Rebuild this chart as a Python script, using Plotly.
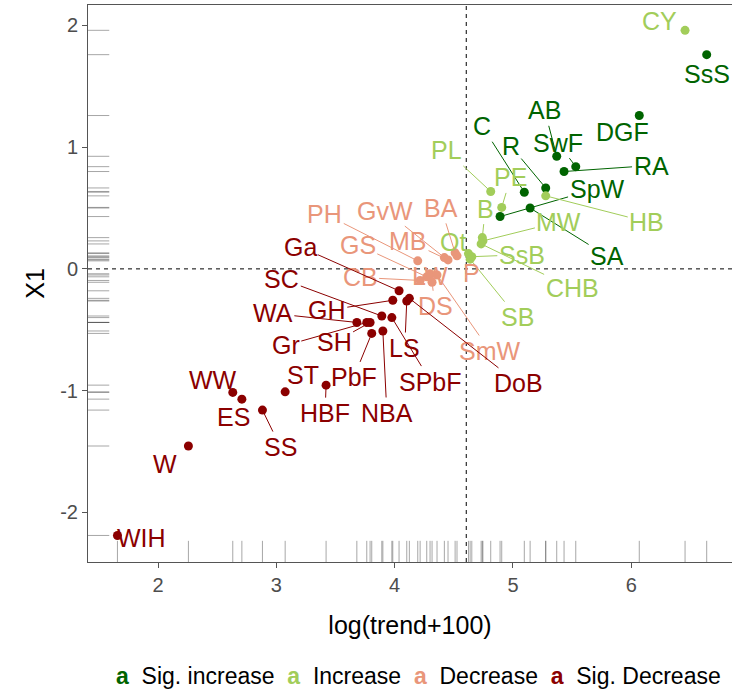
import numpy as np
import plotly.graph_objects as go

# ---------------- data ----------------
groups = ["Sig. increase", "Increase", "Decrease", "Sig. Decrease"]
group_colors = {"Sig. increase": "#006400", "Increase": "#A2CD5A",
                "Decrease": "#E9967A", "Sig. Decrease": "#8B0000"}

sig_inc_labels = ["SsS", "DGF", "AB", "SwF", "RA", "C", "R", "SpW", "SA"]
sig_inc_x = [6.638, 6.068, 5.370, 5.531, 5.432, 5.096, 5.277, 4.891, 5.145]
sig_inc_y = [1.76, 1.26, 0.925, 0.84, 0.80, 0.63, 0.665, 0.43, 0.50]

inc_labels = ["CY", "PL", "PE", "HB", "B", "MW", "CHB", "Ot", "SsB", "SB"]
inc_x = [6.455, 4.812, 4.905, 5.277, 4.741, 4.746, 4.731, 4.624, 4.652, 4.638]
inc_y = [1.96, 0.636, 0.505, 0.60, 0.257, 0.23, 0.205, 0.126, 0.10, 0.08]

dec_labels = ["PH", "GvW", "BA", "GS", "MB", "CB", "LW", "DS", "SmW", "P"]
dec_x = [4.195, 4.420, 4.511, 4.271, 4.451, 4.215, 4.299, 4.316, 4.358, 4.527]
dec_y = [0.066, 0.093, 0.132, -0.065, 0.074, -0.095, -0.04, -0.11, -0.05, 0.107]

sig_dec_labels = ["Ga", "GH", "DoB", "LS", "SC", "SPbF", "WA", "Gr", "SH", "PbF",
                  "NBA", "HBF", "ST", "WW", "ES", "SS", "W", "WIH"]
sig_dec_x = [4.037, 3.984, 4.124, 4.102, 3.891, 3.976, 3.680, 3.764, 3.792, 3.806,
             3.900, 3.420, 3.074, 2.631, 2.708, 2.882, 2.256, 1.656]
sig_dec_y = [-0.18, -0.258, -0.242, -0.264, -0.387, -0.40, -0.44, -0.44, -0.44, -0.53,
             -0.51, -0.955, -1.01, -1.015, -1.07, -1.16, -1.455, -2.19]

series = {
    "Sig. increase": (sig_inc_labels, sig_inc_x, sig_inc_y),
    "Increase": (inc_labels, inc_x, inc_y),
    "Decrease": (dec_labels, dec_x, dec_y),
    "Sig. Decrease": (sig_dec_labels, sig_dec_x, sig_dec_y),
}

x_ticks = [2, 3, 4, 5, 6]
y_ticks = [-2, -1, 0, 1, 2]

ref_x = np.log(100)   # log(0 + 100)
ref_y = 0

# ---------------- label placement (pixel offsets, segment on/off) ----------------
label_offsets = {
    "SsS": (0, 19, False), "DGF": (-17, 16, False), "AB": (-12, -46, True),
    "SwF": (-18, -24, True), "RA": (87, -6, True), "C": (-42, -66, True),
    "R": (-35, -42, True), "SpW": (97, -28, True), "SA": (77, 48, True),
    "CY": (-26, -9, False), "PL": (-44, -41, True), "PE": (9, -30, True),
    "HB": (101, 26, True), "B": (3, -29, True), "MW": (76, -19, True),
    "CHB": (91, 44, True), "Ot": (-15, -12, False), "SsB": (50, -2, True),
    "SB": (47, 58, True),
    "PH": (-93, -47, True), "GvW": (-59, -47, True), "BA": (-14, -45, True),
    "GS": (-69, -32, True), "MB": (-40, -19, True), "CB": (-60, -3, True),
    "LW": (0, 2, False), "DS": (3, 24, True), "SmW": (53, 76, True),
    "P": (14, 17, False),
    "Ga": (-99, -44, True), "GH": (-66, 10, True), "DoB": (109, 85, True),
    "LS": (-2, 47, True), "SC": (-100, -37, True), "SPbF": (39, 64, True),
    "WA": (-84, -9, True), "Gr": (-81, 23, True), "SH": (-36, 20, True),
    "PbF": (-18, 44, True), "NBA": (4, 82, True), "HBF": (-1, 28, True),
    "ST": (18, -17, False), "WW": (-20, -12, False), "ES": (-8, 18, False),
    "SS": (18, 37, True), "W": (-23, 18, False), "WIH": (24, 3, False),
}

FONT = "Liberation Sans, Arial, sans-serif"
LABEL_SIZE = 25

fig = go.Figure()

all_x, all_y = [], []
annotations = []
for g in groups:
    labs, xs, ys = series[g]
    col = group_colors[g]
    all_x += xs
    all_y += ys
    fig.add_trace(go.Scatter(x=xs, y=ys, mode="markers", name=g, showlegend=False,
                             marker=dict(color=col, size=9, line=dict(width=0)),
                             text=labs, hoverinfo="text+x+y"))
    for lab, xv, yv in zip(labs, xs, ys):
        dx, dy, seg = label_offsets[lab]
        annotations.append(dict(
            x=xv, y=yv, xref="x", yref="y", text=lab, showarrow=True,
            ax=dx, ay=dy, arrowhead=0, arrowwidth=1, standoff=4,
            arrowcolor=col if seg else "rgba(0,0,0,0)",
            font=dict(family=FONT, size=LABEL_SIZE, color=col)))

# legend (text-glyph keys like ggplot's geom_text legend)
legend_parts = []
for g in groups:
    legend_parts.append('<span style="color:%s"><b>a</b></span>&nbsp; %s' % (group_colors[g], g))
annotations.append(dict(
    xref="paper", yref="paper", x=0.513, y=-0.205, xanchor="center", yanchor="middle",
    text="&nbsp; ".join(legend_parts), showarrow=False,
    font=dict(family=FONT, size=23, color="black")))

shapes = []
rug_col = "rgba(60,60,60,0.45)"
for xv in all_x:
    shapes.append(dict(type="line", xref="x", yref="y domain", x0=xv, x1=xv,
                       y0=0, y1=0.038, line=dict(color=rug_col, width=1), layer="below"))
for yv in all_y:
    shapes.append(dict(type="line", xref="x domain", yref="y", x0=0, x1=0.033,
                       y0=yv, y1=yv, line=dict(color=rug_col, width=1), layer="below"))
shapes.append(dict(type="line", xref="x", yref="y domain", x0=ref_x, x1=ref_x, y0=0, y1=1,
                   line=dict(color="black", width=1, dash="4px,4px"), layer="below"))
shapes.append(dict(type="line", xref="x domain", yref="y", x0=0, x1=1, y0=ref_y, y1=ref_y,
                   line=dict(color="black", width=1, dash="4px,4px"), layer="below"))

fig.update_layout(
    width=732, height=690,
    margin=dict(l=88, r=0, t=5, b=128),
    plot_bgcolor="white", paper_bgcolor="white",
    font=dict(family=FONT, color="black"),
    shapes=shapes, annotations=annotations,
    showlegend=False,
)
fig.update_xaxes(range=[1.407, 6.852], tickvals=x_ticks, ticktext=[str(v) for v in x_ticks],
                 showgrid=False, zeroline=False, showline=True, mirror=True,
                 linecolor="#555555", linewidth=1, ticks="outside", ticklen=5,
                 tickcolor="#555555",
                 tickfont=dict(size=20, color="#4D4D4D", family=FONT),
                 title=dict(text="log(trend+100)", font=dict(size=25, family=FONT),
                            standoff=21))
fig.update_yaxes(range=[-2.408, 2.168], tickvals=y_ticks, ticktext=[str(v) for v in y_ticks],
                 showgrid=False, zeroline=False, showline=True, mirror=False,
                 linecolor="#555555", linewidth=1, ticks="outside", ticklen=5,
                 tickcolor="#555555",
                 tickfont=dict(size=20, color="#4D4D4D", family=FONT),
                 title=dict(text="X1", font=dict(size=25, family=FONT), standoff=8))

fig.write_html("out.html")
